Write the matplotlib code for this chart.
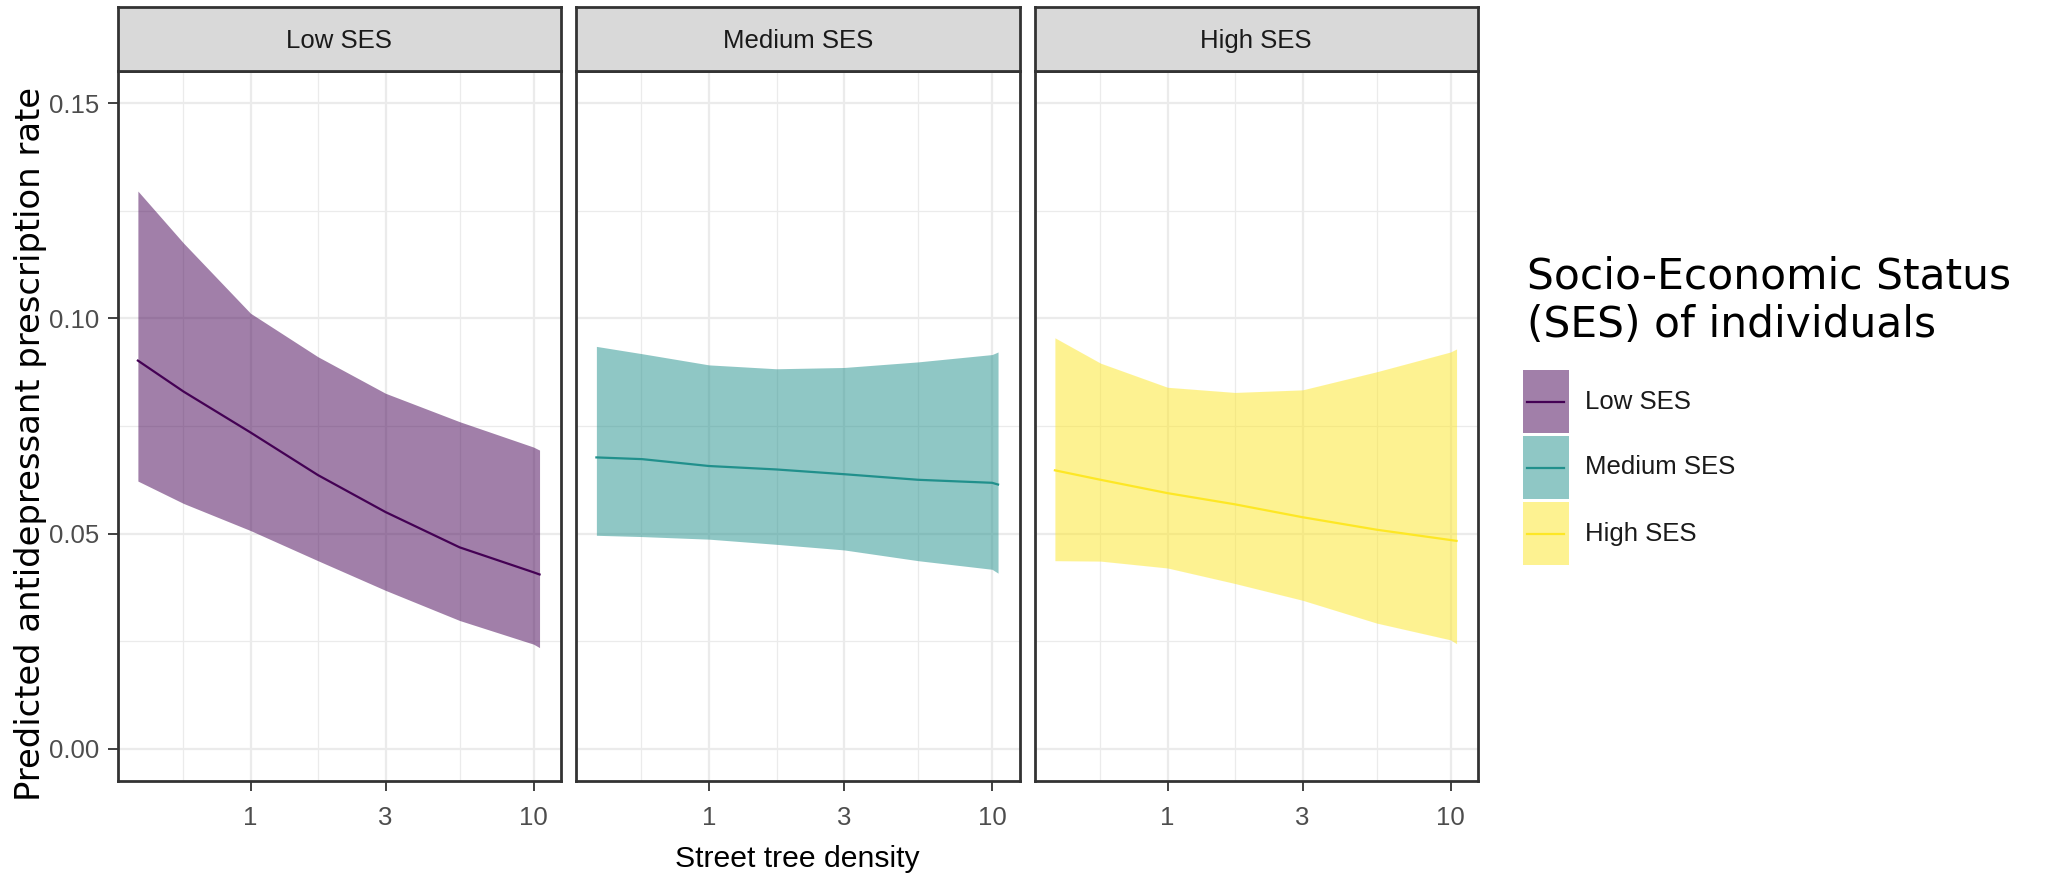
import numpy as np
import matplotlib; matplotlib.use("Agg")
import matplotlib.pyplot as plt
from matplotlib.patches import Rectangle
from matplotlib.lines import Line2D
from matplotlib import font_manager as fm

# predicted rate vs street tree density
X = [0.40, 0.58, 1.0, 1.73, 3.0, 5.48, 10.0, 10.5]
PANELS = ["Low SES", "Medium SES", "High SES"]
COLORS = ["#440154", "#21908C", "#FDE725"]
low_fit = [0.0902, 0.0830, 0.0735, 0.0636, 0.0550, 0.0468, 0.0410, 0.0405]
low_lo = [0.0622, 0.0570, 0.0507, 0.0437, 0.0368, 0.0298, 0.0243, 0.0235]
low_hi = [0.1296, 0.1175, 0.1012, 0.0911, 0.0826, 0.0760, 0.0701, 0.0694]
med_fit = [0.0677, 0.0673, 0.0657, 0.0649, 0.0638, 0.0625, 0.0618, 0.0614]
med_lo = [0.0496, 0.0493, 0.0487, 0.0475, 0.0462, 0.0437, 0.0417, 0.0408]
med_hi = [0.0935, 0.0918, 0.0892, 0.0883, 0.0886, 0.0899, 0.0916, 0.0922]
high_fit = [0.0647, 0.0625, 0.0594, 0.0568, 0.0538, 0.0509, 0.0485, 0.0483]
high_lo = [0.0437, 0.0436, 0.0420, 0.0384, 0.0345, 0.0292, 0.0253, 0.0244]
high_hi = [0.0955, 0.0896, 0.0840, 0.0828, 0.0834, 0.0876, 0.0922, 0.0929]
XTICKS = [1, 3, 10]
XMINOR = [0.577, 1.732, 5.477]
YTICKS = [0.00, 0.05, 0.10, 0.15]
YMINOR = [0.025, 0.075, 0.125]

series = [(low_fit, low_lo, low_hi), (med_fit, med_lo, med_hi), (high_fit, high_lo, high_hi)]

# the reference uses a condensed face; fall back to a smaller regular one
names = {f.name for f in fm.fontManager.ttflist}
if "Liberation Sans Narrow" in names:
    NARROW, SMALL = "Liberation Sans Narrow", 22
else:
    NARROW, SMALL = "Liberation Sans", 18.5

W, H = 2045, 883
fig = plt.figure(figsize=(W / 100, H / 100), dpi=100)
px = lambda x0, y0, w, h: [x0 / W, 1 - (y0 + h) / H, w / W, h / H]

pw, gap = 443.5, 15
xl = (10 ** -0.470, 10 ** 1.097)
yl = (-0.0075, 0.1575)
for i, (name, col, (fit, lo, hi)) in enumerate(zip(PANELS, COLORS, series)):
    x0 = 117.5 + i * (pw + gap)
    ax = fig.add_axes(px(x0, 71, pw, 710))
    ax.set_xscale("log")
    ax.set_xlim(*xl); ax.set_ylim(*yl)
    for v in XTICKS:
        ax.axvline(v, color="#EBEBEB", lw=1.6, zorder=0)
    for v in XMINOR:
        ax.axvline(v, color="#EBEBEB", lw=0.9, zorder=0)
    for v in YTICKS:
        ax.axhline(v, color="#EBEBEB", lw=1.6, zorder=0)
    for v in YMINOR:
        ax.axhline(v, color="#EBEBEB", lw=0.9, zorder=0)
    ax.fill_between(X, lo, hi, color=col, alpha=0.5, lw=0, zorder=2)
    ax.plot(X, fit, color=col, lw=1.6, zorder=3)
    ax.set_xticks(XTICKS)
    ax.set_xticklabels([str(t) for t in XTICKS])
    ax.xaxis.set_minor_locator(plt.NullLocator())
    ax.set_yticks(YTICKS)
    ax.tick_params(axis="both", length=7, width=1.3, color="#333333", labelcolor="#4D4D4D",
                   labelsize=SMALL, pad=6)
    ax.tick_params(axis="x", pad=11)
    if i == 0:
        ax.set_yticklabels([f"{t:.2f}" for t in YTICKS])
    else:
        ax.set_yticklabels([])
        ax.tick_params(axis="y", length=0)
    for lab in ax.get_xticklabels() + ax.get_yticklabels():
        lab.set_family(NARROW)
    for s in ax.spines.values():
        s.set_color("#333333"); s.set_linewidth(2.0)
    sax = fig.add_axes(px(x0, 7, pw, 64))
    sax.set_facecolor("#D9D9D9")
    sax.set_xticks([]); sax.set_yticks([])
    for s in sax.spines.values():
        s.set_color("#333333"); s.set_linewidth(2.0)
    sax.text(0.5, 0.47, name, ha="center", va="center", fontsize=SMALL, color="#1A1A1A",
             family=NARROW, transform=sax.transAxes)

fig.text(797 / W, 1 - 867 / H, "Street tree density", ha="center", va="baseline",
         fontsize=21.7, family="Liberation Sans", color="black")
fig.text(31 / W, 1 - 444 / H, "Predicted antidepressant prescription rate", rotation=90,
         ha="center", va="center", fontsize=24.4, family="DejaVu Sans", color="black")

# legend
fig.text(1527 / W, 1 - 337 / H, "Socio-Economic Status\n(SES) of individuals", ha="left",
         va="baseline", fontsize=30.5, family="DejaVu Sans", linespacing=1.2)
for j, (name, col) in enumerate(zip(PANELS, COLORS)):
    ky = 370 + j * 66
    fig.patches.append(Rectangle((1523 / W, 1 - (ky + 63) / H), 46 / W, 63 / H,
                                 transform=fig.transFigure, facecolor=col, alpha=0.5, lw=0))
    fig.lines.append(Line2D([1527 / W, 1564 / W], [1 - (ky + 31.5) / H] * 2,
                            transform=fig.transFigure, color=col, lw=1.6))
    fig.text(1585 / W, 1 - (ky + 31.5) / H, name, ha="left", va="center", fontsize=SMALL,
             family=NARROW, color="#1A1A1A")

fig.savefig("out.png", dpi=100)
